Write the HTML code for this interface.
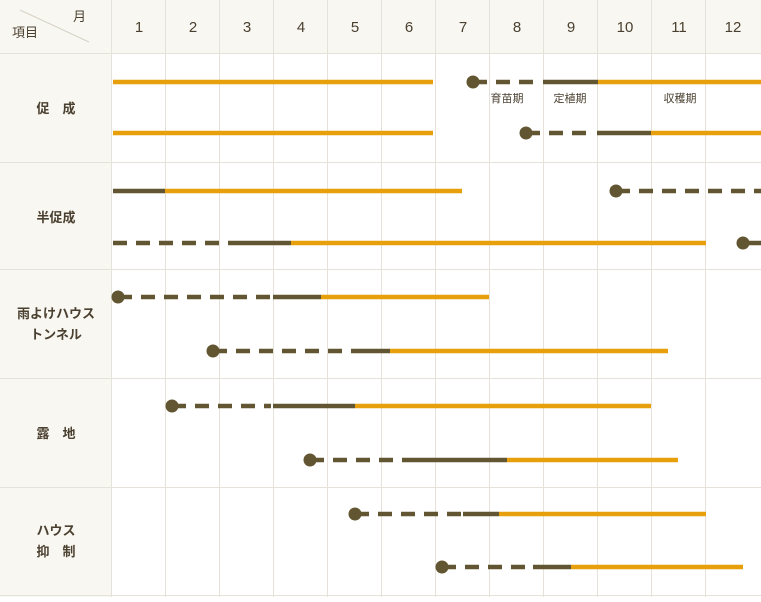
<!DOCTYPE html><html><head><meta charset="utf-8"><style>
body{margin:0;background:#fff}
svg text{font-family:"Liberation Sans","Noto Sans CJK JP",sans-serif;fill:#4a4030}
</style></head><body>
<svg width="761" height="597" xmlns="http://www.w3.org/2000/svg">
<rect x="0" y="0" width="761" height="53" fill="#f9f7f2"/>
<rect x="0" y="0" width="111" height="597" fill="#f9f7f2"/>
<g stroke="#e6e2da" stroke-width="1">
<line x1="0" y1="53.5" x2="761" y2="53.5"/><line x1="0" y1="162.5" x2="761" y2="162.5"/>
<line x1="0" y1="269.5" x2="761" y2="269.5"/><line x1="0" y1="378.5" x2="761" y2="378.5"/>
<line x1="0" y1="487.5" x2="761" y2="487.5"/><line x1="0" y1="595.5" x2="761" y2="595.5"/>
<line x1="111.5" y1="0" x2="111.5" y2="597"/><line x1="165.5" y1="0" x2="165.5" y2="597"/>
<line x1="219.5" y1="0" x2="219.5" y2="597"/><line x1="273.5" y1="0" x2="273.5" y2="597"/>
<line x1="327.5" y1="0" x2="327.5" y2="597"/><line x1="381.5" y1="0" x2="381.5" y2="597"/>
<line x1="435.5" y1="0" x2="435.5" y2="597"/><line x1="489.5" y1="0" x2="489.5" y2="597"/>
<line x1="543.5" y1="0" x2="543.5" y2="597"/><line x1="597.5" y1="0" x2="597.5" y2="597"/>
<line x1="651.5" y1="0" x2="651.5" y2="597"/><line x1="705.5" y1="0" x2="705.5" y2="597"/>
<line x1="20" y1="10" x2="89" y2="42" stroke="#d8d2c6"/>
</g>
<text x="73" y="21" font-size="13">月</text>
<text x="12" y="37" font-size="13">項目</text>
<g font-size="15" text-anchor="middle">
<text x="139" y="32">1</text><text x="193" y="32">2</text><text x="247" y="32">3</text><text x="301" y="32">4</text>
<text x="355" y="32">5</text><text x="409" y="32">6</text><text x="463" y="32">7</text><text x="517" y="32">8</text>
<text x="571" y="32">9</text><text x="625" y="32">10</text><text x="679" y="32">11</text><text x="733" y="32">12</text>
</g>
<g font-size="13" text-anchor="middle" font-weight="bold">
<text x="56" y="113">促　成</text>
<text x="56" y="222">半促成</text>
<text x="56" y="318">雨よけハウス</text><text x="56" y="339">トンネル</text>
<text x="56" y="438">露　地</text>
<text x="56" y="535">ハウス</text><text x="56" y="556">抑　制</text>
</g>
<g font-size="11" text-anchor="middle">
<text x="507" y="102">育苗期</text><text x="570" y="102">定植期</text><text x="680" y="102">収穫期</text>
</g>
<g stroke-width="4.5" fill="none">
<g stroke="#e89f0c">
<line x1="113" y1="82" x2="433" y2="82"/><line x1="598" y1="82" x2="761" y2="82"/>
<line x1="113" y1="133" x2="433" y2="133"/><line x1="651" y1="133" x2="761" y2="133"/>
<line x1="165" y1="191" x2="462" y2="191"/><line x1="291" y1="243" x2="706" y2="243"/>
<line x1="321" y1="297" x2="489" y2="297"/><line x1="390" y1="351" x2="668" y2="351"/>
<line x1="355" y1="406" x2="651" y2="406"/><line x1="507" y1="460" x2="678" y2="460"/>
<line x1="499" y1="514" x2="706" y2="514"/><line x1="571" y1="567" x2="743" y2="567"/>
</g>
<g stroke="#625632">
<line x1="543" y1="82" x2="598" y2="82"/><line x1="597" y1="133" x2="651" y2="133"/>
<line x1="113" y1="191" x2="165" y2="191"/><line x1="238" y1="243" x2="291" y2="243"/>
<line x1="743" y1="243" x2="761" y2="243"/>
<line x1="273" y1="297" x2="321" y2="297"/><line x1="355" y1="351" x2="390" y2="351"/>
<line x1="273" y1="406" x2="355" y2="406"/><line x1="410" y1="460" x2="507" y2="460"/>
<line x1="463" y1="514" x2="499" y2="514"/><line x1="533" y1="567" x2="571" y2="567"/>
</g>
<g stroke="#625632" stroke-dasharray="14 9">
<line x1="473" y1="82" x2="540" y2="82"/><line x1="526" y1="133" x2="595" y2="133"/>
<line x1="616" y1="191" x2="761" y2="191"/><line x1="113" y1="243" x2="238" y2="243"/>
<line x1="118" y1="297" x2="273" y2="297"/><line x1="213" y1="351" x2="355" y2="351"/>
<line x1="172" y1="406" x2="271" y2="406"/><line x1="310" y1="460" x2="410" y2="460"/>
<line x1="355" y1="514" x2="463" y2="514"/><line x1="442" y1="567" x2="533" y2="567"/>
</g>
</g>
<g fill="#625632">
<circle cx="473" cy="82" r="6.5"/><circle cx="526" cy="133" r="6.5"/>
<circle cx="616" cy="191" r="6.5"/><circle cx="743" cy="243" r="6.5"/>
<circle cx="118" cy="297" r="6.5"/><circle cx="213" cy="351" r="6.5"/>
<circle cx="172" cy="406" r="6.5"/><circle cx="310" cy="460" r="6.5"/>
<circle cx="355" cy="514" r="6.5"/><circle cx="442" cy="567" r="6.5"/>
</g>
</svg>
</body></html>
